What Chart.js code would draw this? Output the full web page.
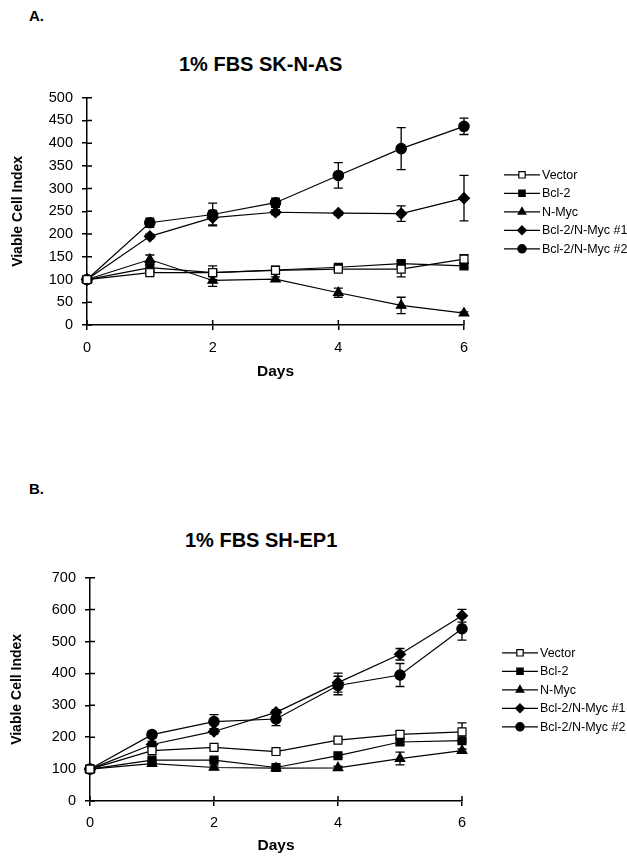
<!DOCTYPE html>
<html>
<head>
<meta charset="utf-8">
<script src="https://cdn.jsdelivr.net/npm/chart.js@4"></script>
<style>
  html, body { margin: 0; padding: 0; background: #fff; }
  body { width: 627px; height: 857px; position: relative; overflow: hidden;
         font-family: "Liberation Sans", Arial, sans-serif; color: #000; }
  .lbl { position: absolute; font-weight: bold; line-height: 1; white-space: nowrap; }
  canvas { position: absolute; left: 0; }
</style>
</head>
<body>
<div class="lbl" style="left:29px; top:8px; font-size:15px;">A.</div>
<div class="lbl" style="left:179px; top:54px; font-size:20px;">1% FBS SK-N-AS</div>
<canvas id="chartA" width="627" height="302" style="top:80px;"></canvas>

<div class="lbl" style="left:29px; top:481px; font-size:15px;">B.</div>
<div class="lbl" style="left:185px; top:530px; font-size:20px;">1% FBS SH-EP1</div>
<canvas id="chartB" width="627" height="297" style="top:560px;"></canvas>

<script>
// Días y nombres de series (iguales en ambos paneles)
const days = [0, 1, 2, 3, 4, 5, 6];
const xTicks = [0, 2, 4, 6];
const seriesNames = ["Vector", "Bcl-2", "N-Myc", "Bcl-2/N-Myc #1", "Bcl-2/N-Myc #2"];

// Panel A: 1% FBS SK-N-AS
const yTicksA = [0, 50, 100, 150, 200, 250, 300, 350, 400, 450, 500];
const skVector = [100, 115, 115, 120, 123, 123, 145];
const skBcl2   = [100, 126, 115, 121, 127, 135, 130];
const skNMyc   = [100, 144, 98, 101, 71, 43, 26];
const skCombo1 = [100, 195, 236, 248, 246, 245, 279];
const skCombo2 = [100, 225, 243, 269, 329, 388, 437];
const skVectorErr = [0, 5, 5, 5, 5, 17, 10];
const skBcl2Err   = [0, 8, 15, 8, 5, 5, 5];
const skNMycErr   = [0, 10, 13, 5, 10, 18, 3];
const skCombo1Err = [0, 5, 16, 5, 4, 17, 50];
const skCombo2Err = [0, 10, 25, 10, 28, 46, 18];

// Panel B: 1% FBS SH-EP1
const yTicksB = [0, 100, 200, 300, 400, 500, 600, 700];
const shVector = [100, 158, 168, 155, 191, 209, 217];
const shBcl2   = [100, 128, 128, 105, 142, 185, 189];
const shNMyc   = [100, 117, 105, 103, 104, 133, 158];
const shCombo1 = [100, 177, 218, 278, 371, 460, 581];
const shCombo2 = [100, 208, 249, 257, 362, 395, 540];
const shVectorErr = [0, 5, 5, 5, 5, 10, 28];
const shBcl2Err   = [0, 5, 5, 5, 5, 8, 5];
const shNMycErr   = [0, 5, 5, 5, 5, 20, 5];
const shCombo1Err = [0, 10, 8, 8, 30, 18, 20];
const shCombo2Err = [0, 10, 22, 21, 29, 36, 36];

Chart.defaults.font.family = "'Liberation Sans', Arial, sans-serif";
Chart.defaults.color = "#000";

// marcador de cada serie: cuadro abierto, cuadro, triángulo, rombo, círculo
const markers = [
  { style: "rect", r: 5.6, fill: "#fff" },
  { style: "rect", r: 5.6, fill: "#000" },
  { style: "triangle", r: 5.5, fill: "#000" },
  { style: "rectRot", r: 5.5, fill: "#000" },
  { style: "circle", r: 5.2, fill: "#000" },
];

function drawMarker(ctx, style, x, y, r) {
  ctx.beginPath();
  if (style === "circle") ctx.arc(x, y, r, 0, Math.PI * 2);
  else if (style === "rect") { const s = r * Math.SQRT1_2; ctx.rect(x - s, y - s, 2 * s, 2 * s); }
  else if (style === "rectRot") { ctx.moveTo(x, y - r); ctx.lineTo(x + r, y); ctx.lineTo(x, y + r); ctx.lineTo(x - r, y); ctx.closePath(); }
  else if (style === "triangle") { ctx.moveTo(x, y - r); ctx.lineTo(x + r * 0.866, y + r * 0.5); ctx.lineTo(x - r * 0.866, y + r * 0.5); ctx.closePath(); }
  ctx.fill(); ctx.stroke();
}

// barras de error (detrás de las series)
const errorBars = {
  id: "errorBars",
  beforeDatasetsDraw(chart) {
    const { ctx, scales: { x, y } } = chart;
    ctx.save();
    ctx.strokeStyle = "#000"; ctx.lineWidth = 1.3;
    chart.data.datasets.forEach((ds) => ds.data.forEach((p, j) => {
      const e = ds.errors[j];
      if (!e) return;
      const px = x.getPixelForValue(p.x);
      const top = y.getPixelForValue(p.y + e), bot = y.getPixelForValue(p.y - e);
      ctx.beginPath();
      ctx.moveTo(px, top); ctx.lineTo(px, bot);
      ctx.moveTo(px - 4.5, top); ctx.lineTo(px + 4.5, top);
      ctx.moveTo(px - 4.5, bot); ctx.lineTo(px + 4.5, bot);
      ctx.stroke();
    }));
    ctx.restore();
  },
};

// marcas de eje que cruzan hacia dentro
const innerTicks = {
  id: "innerTicks",
  beforeDatasetsDraw(chart) {
    const { ctx, chartArea: a, scales: { x, y } } = chart;
    ctx.save();
    ctx.strokeStyle = "#000"; ctx.lineWidth = 1.5;
    ctx.beginPath();
    y.ticks.forEach((t) => { const py = y.getPixelForValue(t.value); ctx.moveTo(a.left, py); ctx.lineTo(a.left + 5, py); });
    x.ticks.forEach((t) => { const px = x.getPixelForValue(t.value); ctx.moveTo(px, a.bottom); ctx.lineTo(px, a.bottom - 5); });
    ctx.stroke();
    ctx.restore();
  },
};

// leyenda a la derecha con línea + marcador
const sideLegend = {
  id: "sideLegend",
  afterDraw(chart) {
    const { ctx, chartArea: a } = chart;
    const ds = chart.data.datasets;
    const mid = (a.top + a.bottom) / 2 + 0.5;
    const x0 = a.right + 40;
    ctx.save();
    ctx.font = "12.5px 'Liberation Sans', Arial, sans-serif";
    ctx.textBaseline = "middle";
    ds.forEach((d, i) => {
      const y = mid + (i - (ds.length - 1) / 2) * 18.5;
      ctx.strokeStyle = "#000"; ctx.lineWidth = 1.3;
      ctx.beginPath(); ctx.moveTo(x0, y); ctx.lineTo(x0 + 36, y); ctx.stroke();
      ctx.fillStyle = markers[i].fill; ctx.lineWidth = 1.2;
      drawMarker(ctx, markers[i].style, x0 + 18, y, markers[i].r * 0.8);
      ctx.fillStyle = "#000";
      ctx.fillText(d.label, x0 + 38, y + 0.5);
    });
    ctx.restore();
  },
};

function makeChart(id, cfg) {
  const datasets = seriesNames.map((name, i) => ({
    label: name,
    data: days.map((d, j) => ({ x: d, y: cfg.values[i][j] })),
    errors: cfg.errors[i],
    borderColor: "#000", borderWidth: 1.2, tension: 0, fill: false,
    pointStyle: markers[i].style, pointRadius: markers[i].r,
    pointBackgroundColor: markers[i].fill, pointBorderColor: "#000", pointBorderWidth: 1.2,
    clip: false,
  }));
  return new Chart(document.getElementById(id), {
    type: "line",
    data: { datasets },
    options: {
      responsive: false, animation: false,
      layout: { padding: { left: 0, top: cfg.padTop, right: 627 - cfg.right, bottom: 0 } },
      plugins: { legend: { display: false }, tooltip: { enabled: false } },
      scales: {
        x: {
          type: "linear", min: 0, max: 6,
          afterBuildTicks: (s) => { s.ticks = xTicks.map((v) => ({ value: v })); },
          afterFit: (s) => { s.height = cfg.xH; },
          grid: { drawOnChartArea: false, color: "#000", lineWidth: 1.5, tickLength: 5 },
          border: { color: "#000", width: 1.5 },
          ticks: { color: "#000", font: { size: 14.5 }, padding: cfg.xPad, maxRotation: 0 },
          title: { display: true, text: "Days", color: "#000", font: { size: 15.5, weight: "bold" }, padding: { top: 0, bottom: cfg.xTitlePad } },
        },
        y: {
          min: 0, max: cfg.yTicks[cfg.yTicks.length - 1],
          afterBuildTicks: (s) => { s.ticks = cfg.yTicks.map((v) => ({ value: v })); },
          afterFit: (s) => { s.width = cfg.left; },
          grid: { drawOnChartArea: false, color: "#000", lineWidth: 1.5, tickLength: 5 },
          border: { color: "#000", width: 1.5 },
          ticks: { color: "#000", font: { size: 14.5 }, padding: 9 },
          title: { display: true, text: "Viable Cell Index", color: "#000", font: { size: 14, weight: "bold" }, padding: { top: cfg.yTitlePad, bottom: 0 } },
        },
      },
    },
    plugins: [innerTicks, errorBars, sideLegend],
  });
}

makeChart("chartA", {
  values: [skVector, skBcl2, skNMyc, skCombo1, skCombo2],
  errors: [skVectorErr, skBcl2Err, skNMycErr, skCombo1Err, skCombo2Err],
  yTicks: yTicksA, left: 87, right: 464, padTop: 17, xH: 57, xPad: 9.3, xTitlePad: 0.7, yTitlePad: 9.4,
});

makeChart("chartB", {
  values: [shVector, shBcl2, shNMyc, shCombo1, shCombo2],
  errors: [shVectorErr, shBcl2Err, shNMycErr, shCombo1Err, shCombo2Err],
  yTicks: yTicksB, left: 90, right: 462, padTop: 14, xH: 56, xPad: 8.3, xTitlePad: 1.7, yTitlePad: 8.4,
});
</script>
</body>
</html>
